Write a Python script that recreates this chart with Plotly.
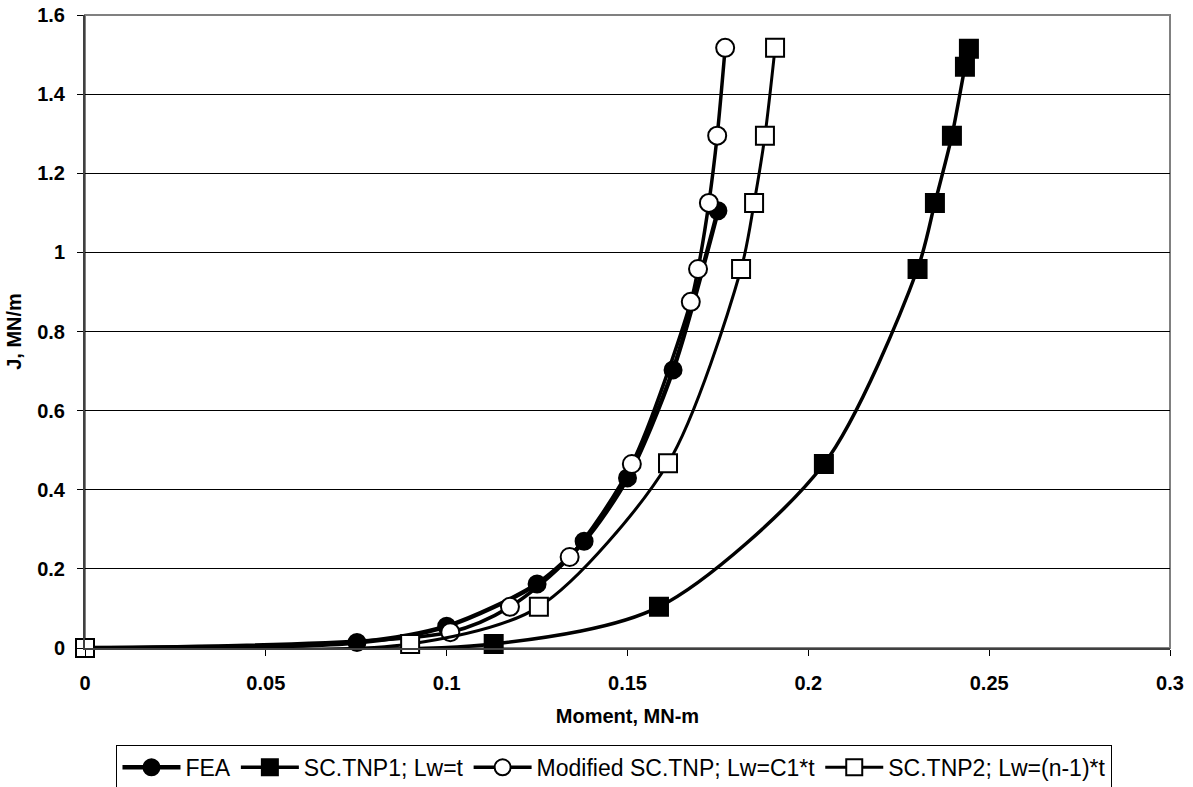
import plotly.graph_objects as go

fea_x = [0, 0.0752, 0.1, 0.125, 0.138, 0.150, 0.1626, 0.175]
fea_y = [0, 0.014, 0.055, 0.162, 0.27, 0.43, 0.703, 1.105]

tnp1_x = [0, 0.113, 0.1587, 0.2043, 0.2302, 0.235, 0.2397, 0.2433, 0.2444]
tnp1_y = [0, 0.01, 0.104, 0.465, 0.958, 1.125, 1.295, 1.469, 1.515]

mod_x = [0, 0.101, 0.1175, 0.134, 0.1512, 0.1675, 0.1695, 0.1725, 0.1748, 0.177]
mod_y = [0, 0.04, 0.104, 0.23, 0.465, 0.875, 0.958, 1.125, 1.295, 1.517]

tnp2_x = [0, 0.0899, 0.1255, 0.1612, 0.1814, 0.185, 0.188, 0.1908]
tnp2_y = [0, 0.01, 0.104, 0.467, 0.958, 1.125, 1.295, 1.517]

names = ["FEA", "SC.TNP1; Lw=t", "Modified SC.TNP; Lw=C1*t", "SC.TNP2; Lw=(n-1)*t"]

x_ticks = [0, 0.05, 0.1, 0.15, 0.2, 0.25, 0.3]
x_tick_text = ["0", "0.05", "0.1", "0.15", "0.2", "0.25", "0.3"]
y_ticks = [0, 0.2, 0.4, 0.6, 0.8, 1.0, 1.2, 1.4, 1.6]
y_tick_text = ["0", "0.2", "0.4", "0.6", "0.8", "1", "1.2", "1.4", "1.6"]

FONT = "Liberation Sans, Arial"

fig = go.Figure()
series = [
    (fea_x, fea_y, names[0], "circle", "black", 4.5, 17),
    (tnp1_x, tnp1_y, names[1], "square", "black", 3.5, 18),
    (mod_x, mod_y, names[2], "circle", "white", 3.5, 18),
    (tnp2_x, tnp2_y, names[3], "square", "white", 3, 18),
]
for xs, ys, nm, sym, fill, lw, ms in series:
    fig.add_trace(go.Scatter(
        x=xs, y=ys, name=nm, mode="lines+markers",
        line=dict(color="black", width=lw, shape="spline", smoothing=0.8),
        marker=dict(symbol=sym, size=ms, color=fill, line=dict(color="black", width=2)),
        cliponaxis=False,
    ))

fig.update_layout(
    width=1193, height=787,
    margin=dict(l=85, r=23, t=15, b=139, autoexpand=False),
    paper_bgcolor="white", plot_bgcolor="white",
    font=dict(family=FONT, color="black"),
    showlegend=True,
    legend=dict(
        orientation="h", x=0.488, xanchor="center", y=-0.153, yanchor="top",
        bordercolor="black", borderwidth=1, bgcolor="white",
        font=dict(size=23, family=FONT),
        itemwidth=58, tracegroupgap=0,
    ),
    shapes=[dict(type="rect", xref="paper", yref="paper", x0=0, x1=1, y0=0, y1=1,
                 line=dict(color="#808080", width=2), layer="below")],
)
fig.update_xaxes(
    range=[0, 0.3], tickvals=x_ticks, ticktext=x_tick_text,
    showgrid=False, zeroline=False, automargin=False,
    showline=True, linecolor="#404040", linewidth=2,
    ticks="outside", ticklen=6, tickcolor="black", ticklabelstandoff=10,
    tickfont=dict(size=20, family=FONT, weight="bold"),
    title=dict(text="<b>Moment, MN-m</b>", font=dict(size=20, family=FONT), standoff=16),
)
fig.update_yaxes(
    range=[0, 1.6], tickvals=y_ticks, ticktext=y_tick_text,
    showgrid=True, gridcolor="black", gridwidth=1, zeroline=False, automargin=False,
    showline=True, linecolor="#404040", linewidth=2,
    ticks="outside", ticklen=6, tickcolor="black", ticklabelstandoff=8,
    tickfont=dict(size=20, family=FONT, weight="bold"),
    title=dict(text="<b>J, MN/m</b>", font=dict(size=20, family=FONT), standoff=10),
)

fig.write_html("out.html")
